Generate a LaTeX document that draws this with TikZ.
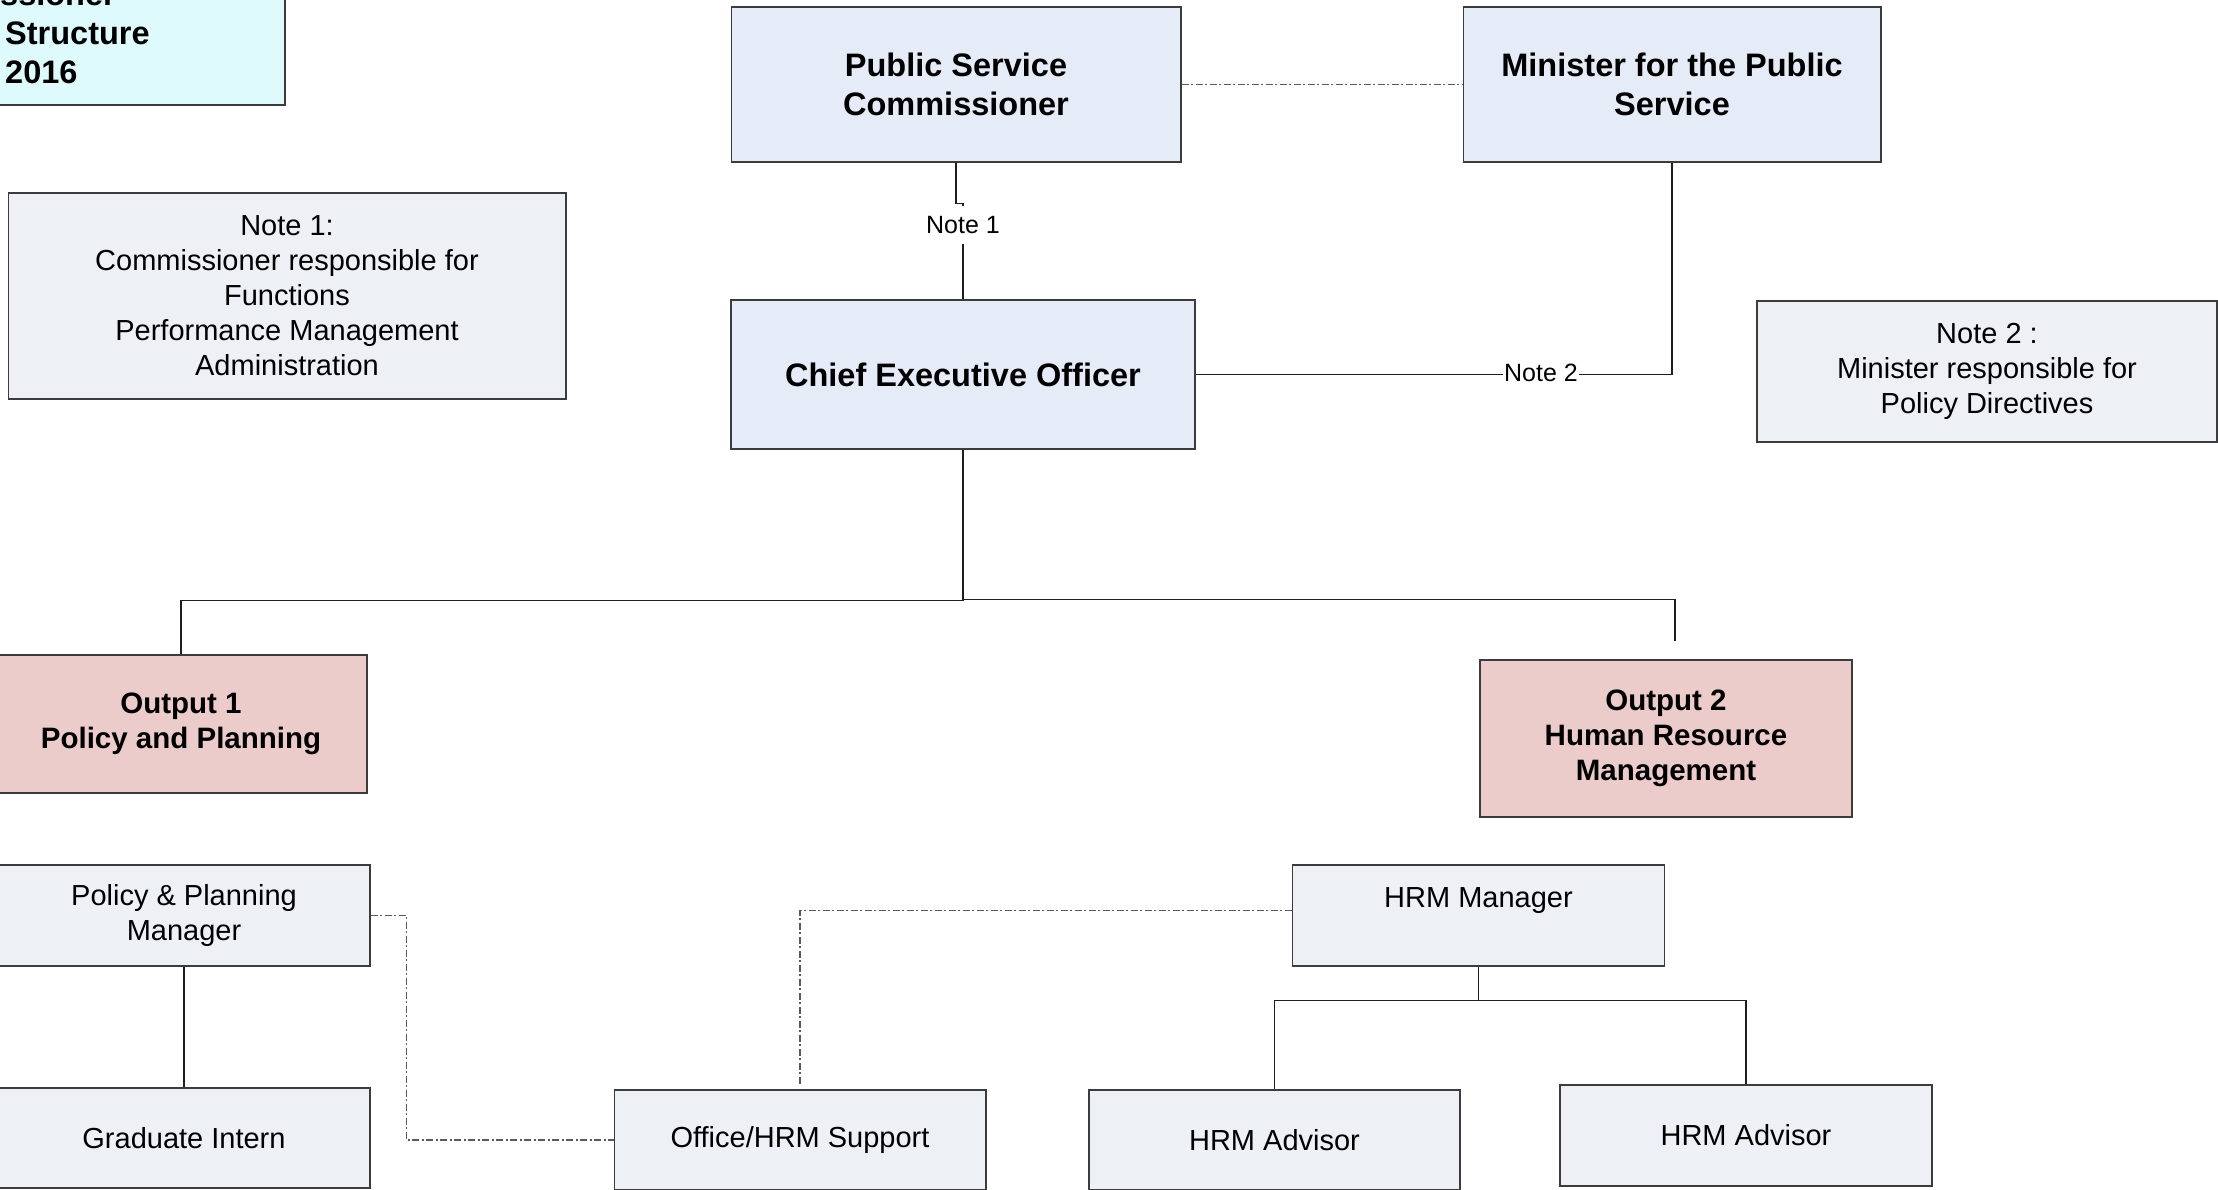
\documentclass[tikz,border=0pt]{standalone}
\usepackage{fontspec}
\setmainfont{Liberation Sans}
\begin{document}
\begin{tikzpicture}[x=1pt,y=-1pt,
  box/.style={draw=edgec, line width=1.5pt, rectangle, inner sep=0pt, align=center},
  topbox/.style={box, fill=topc, font=\fontsize{32.5}{39}\selectfont\bfseries},
  outbox/.style={box, fill=outc, font=\fontsize{29.5}{35}\selectfont\bfseries},
  notebox/.style={box, fill=notec, font=\fontsize{29}{35}\selectfont},
  staffbox/.style={box, fill=notec, font=\fontsize{29}{35}\selectfont},
  titletext/.style={inner sep=0pt, anchor=base west, font=\fontsize{32.5}{39}\selectfont\bfseries},
  link/.style={draw=linec, line width=1.4pt},
  dotlink/.style={draw=dotc, line width=1.2pt, dash pattern=on 7pt off 2.5pt on 2pt off 2.5pt},
  lbl/.style={fill=white, inner xsep=1pt, inner ysep=10pt, font=\fontsize{25}{30}\selectfont}
]
\definecolor{topc}{HTML}{E6ECF7}
\definecolor{notec}{HTML}{EDF0F5}
\definecolor{outc}{HTML}{ECCBCB}
\definecolor{titlec}{HTML}{DFFAFC}
\definecolor{edgec}{HTML}{3C3C3C}
\definecolor{linec}{HTML}{1E1E1E}
\definecolor{dotc}{HTML}{5A5A5A}

\useasboundingbox (0,0) rectangle (2218,1189);
\clip (0,0) rectangle (2218,1189);

% title block in the upper left corner
\node[box, fill=titlec, minimum width=305pt, minimum height=125pt] (title) at (132.5,42.5) {};
\node[titletext] (title1) at (0,5) {ssioner};
\node[titletext] (title2) at (5,44) {Structure};
\node[titletext] (title3) at (5,83) {2016};

% upper management
\node[topbox, minimum width=449.5pt, minimum height=155pt] (psc) at (956,84.5) {Public Service\\Commissioner};
\node[topbox, minimum width=417.5pt, minimum height=155pt] (min) at (1672,84.5) {Minister for the Public\\Service};
\node[topbox, minimum width=464pt, minimum height=149pt] (ceo) at (963,374.5) {Chief Executive Officer};

% notes
\node[notebox, minimum width=557.5pt, minimum height=206pt] (note1) at (287,296)
  {Note 1:\\Commissioner responsible for\\Functions\\Performance Management\\Administration};
\node[notebox, minimum width=460pt, minimum height=141pt] (note2) at (1987,371.5)
  {Note 2 :\\Minister responsible for\\Policy Directives};

% outputs
\node[outbox, minimum width=372pt, minimum height=138pt] (out1) at (181,724) {Output 1\\Policy and Planning};
\node[outbox, minimum width=372pt, minimum height=157pt] (out2) at (1666,738.5) {Output 2\\Human Resource\\Management};

% staff
\node[staffbox, minimum width=372pt, minimum height=101pt] (ppm) at (184,915.5) {Policy \& Planning\\Manager};
\node[staffbox, minimum width=372pt, minimum height=100pt] (grad) at (184,1138) {Graduate Intern};
\node[staffbox, minimum width=371.5pt, minimum height=100pt] (office) at (800,1140) {Office/HRM Support};
\node[staffbox, minimum width=372pt, minimum height=101pt] (hrm) at (1478.5,915.5) {HRM Manager\\\mbox{}};
\node[staffbox, minimum width=371pt, minimum height=100pt] (adv1) at (1274.5,1140) {HRM Advisor};
\node[staffbox, minimum width=372pt, minimum height=101pt] (adv2) at (1746,1135.5) {HRM Advisor};

\coordinate (o2top) at (1675,641);

% reporting lines
\draw[dotlink] (psc.east) -- (min.west);
\draw[link] (psc.south) -- ++(0,41) -| (ceo.north);
\draw[link] (min.south) |- (ceo.east);
\draw[link] (ceo.south) -- ++(0,151) -| (out1.north);
\draw[link] (ceo.south) -- ++(0,150) -| (o2top);
\draw[link] (ppm.south) -- (grad.north);
\draw[link] (hrm.south) -- ++(0,34) -| (adv1.north);
\draw[link] (hrm.south) -- ++(0,34) -| (adv2.north);
\draw[dotlink] (ppm.east) -- ++(36,0) |- (office.west);
\draw[dotlink, shorten >=4pt] ([yshift=5pt]hrm.west) -| (office.north);

% connector labels
\node[lbl] (n1lbl) at (963,225) {Note 1};
\node[lbl] (n2lbl) at (1541,373) {Note 2};
\end{tikzpicture}
\end{document}
